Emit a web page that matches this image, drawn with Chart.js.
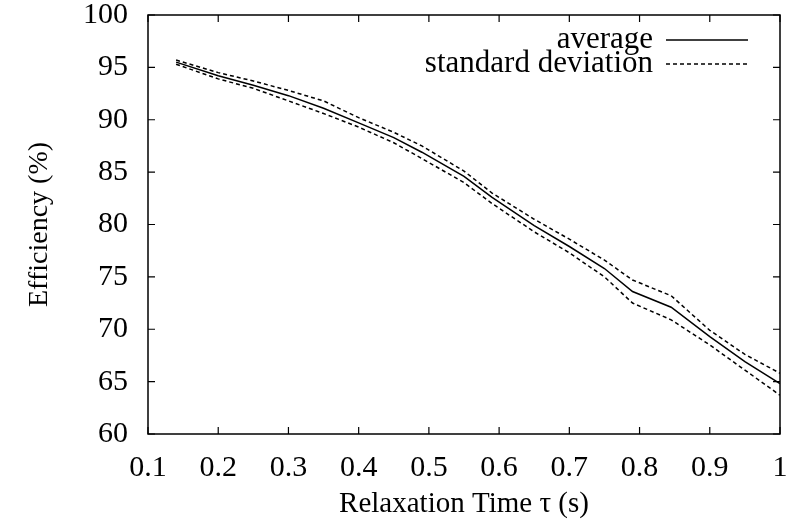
<!DOCTYPE html>
<html>
<head>
<meta charset="utf-8">
<script src="https://cdn.jsdelivr.net/npm/chart.js@4.4.1/dist/chart.umd.min.js"></script>
<style>
  html, body { margin: 0; padding: 0; background: #fff; }
  #wrap { width: 788px; height: 523px; position: relative; }
</style>
</head>
<body>
<div id="wrap"><canvas id="c" width="788" height="523"></canvas></div>
<script>
const tau = [0.14, 0.2, 0.25, 0.3, 0.35, 0.4, 0.45, 0.49, 0.55, 0.59, 0.65, 0.7, 0.75, 0.79, 0.845, 0.9, 0.95, 1.0];
const average = [95.5, 94.2, 93.3, 92.3, 91.1, 89.7, 88.3, 86.9, 84.6, 82.6, 79.9, 77.9, 75.8, 73.6, 72.1, 69.3, 66.9, 64.8];
const stdUpper = [95.7, 94.5, 93.7, 92.8, 91.8, 90.2, 88.8, 87.5, 85.1, 83.0, 80.5, 78.6, 76.6, 74.7, 73.2, 69.9, 67.6, 65.8];
const stdLower = [95.3, 93.9, 93.0, 91.8, 90.6, 89.3, 87.8, 86.3, 84.0, 82.0, 79.3, 77.3, 75.0, 72.5, 70.9, 68.5, 66.1, 63.7];
const xTicks = [0.1, 0.2, 0.3, 0.4, 0.5, 0.6, 0.7, 0.8, 0.9, 1];
const yTicks = [60, 65, 70, 75, 80, 85, 90, 95, 100];
const xTitle = 'Relaxation Time \u03c4 (s)';
const yTitle = 'Efficiency (%)';
const labelAvg = 'average';
const labelStd = 'standard deviation';

const FONT = '"Liberation Serif", "Times New Roman", serif';
const pts = (ys) => tau.map((x, i) => ({ x: x, y: ys[i] }));

const framePlugin = {
  id: 'frame',
  afterDatasetsDraw(chart) {
    const { ctx, chartArea: a, scales } = chart;
    ctx.save();
    ctx.strokeStyle = '#000';
    ctx.lineWidth = 1.5;
    ctx.strokeRect(a.left, a.top, a.right - a.left, a.bottom - a.top);
    const tl = 7;
    ctx.lineWidth = 1.2;
    ctx.beginPath();
    scales.x.ticks.forEach(t => {
      const px = scales.x.getPixelForValue(t.value);
      ctx.moveTo(px, a.bottom); ctx.lineTo(px, a.bottom - tl);
      ctx.moveTo(px, a.top); ctx.lineTo(px, a.top + tl);
    });
    scales.y.ticks.forEach(t => {
      const py = scales.y.getPixelForValue(t.value);
      ctx.moveTo(a.left, py); ctx.lineTo(a.left + tl, py);
      ctx.moveTo(a.right, py); ctx.lineTo(a.right - tl, py);
    });
    ctx.stroke();

    // legend (gnuplot style: text then line sample)
    const ds = chart.data.datasets;
    const entries = [ds[0], ds[1]];
    ctx.font = '31px ' + FONT;
    ctx.fillStyle = '#000';
    ctx.textAlign = 'right';
    ctx.textBaseline = 'middle';
    const textRight = 653, x1 = 666, x2 = 748;
    const rows = [40, 64];
    entries.forEach((d, i) => {
      ctx.fillText(d.label, textRight, rows[i]);
      ctx.beginPath();
      ctx.setLineDash(d.borderDash || []);
      ctx.lineWidth = d.borderWidth;
      ctx.strokeStyle = d.borderColor;
      ctx.moveTo(x1, rows[i]); ctx.lineTo(x2, rows[i]);
      ctx.stroke();
    });
    ctx.restore();
  }
};

new Chart(document.getElementById('c'), {
  type: 'line',
  data: {
    datasets: [
      { label: labelAvg, data: pts(average), borderColor: '#000', borderWidth: 1.5, pointRadius: 0, tension: 0, fill: false },
      { label: labelStd, data: pts(stdUpper), borderColor: '#000', borderWidth: 1.5, borderDash: [4, 3], pointRadius: 0, tension: 0, fill: false },
      { label: labelStd + ' ', data: pts(stdLower), borderColor: '#000', borderWidth: 1.5, borderDash: [4, 3], pointRadius: 0, tension: 0, fill: false }
    ]
  },
  options: {
    responsive: false,
    animation: false,
    layout: { padding: { top: 15, right: 8, left: 0, bottom: 0 } },
    plugins: { legend: { display: false }, tooltip: { enabled: false } },
    scales: {
      x: {
        type: 'linear', min: 0.1, max: 1,
        afterBuildTicks: s => { s.ticks = xTicks.map(v => ({ value: v })); },
        afterFit: s => { s.height = 89; s.paddingLeft = 0; s.paddingRight = 0; },
        grid: { display: false, drawTicks: false },
        border: { display: false },
        ticks: { color: '#000', font: { family: FONT, size: 30 }, padding: 16, maxRotation: 0, autoSkip: false,
                 callback: v => String(Number(v.toFixed(1))) },
        title: { display: true, text: xTitle, color: '#000', font: { family: FONT, size: 29 }, padding: { top: 0, bottom: 1 } }
      },
      y: {
        type: 'linear', min: 60, max: 100,
        afterBuildTicks: s => { s.ticks = yTicks.map(v => ({ value: v })); },
        afterFit: s => { s.width = 148; s.paddingTop = 0; s.paddingBottom = 0; },
        grid: { display: false, drawTicks: false },
        border: { display: false },
        ticks: { color: '#000', font: { family: FONT, size: 30 }, padding: 20, autoSkip: false,
                 callback: v => String(v) },
        title: { display: true, text: yTitle, color: '#000', font: { family: FONT, size: 28 }, padding: { top: 23, bottom: 0 } }
      }
    }
  },
  plugins: [framePlugin]
});
</script>
</body>
</html>
